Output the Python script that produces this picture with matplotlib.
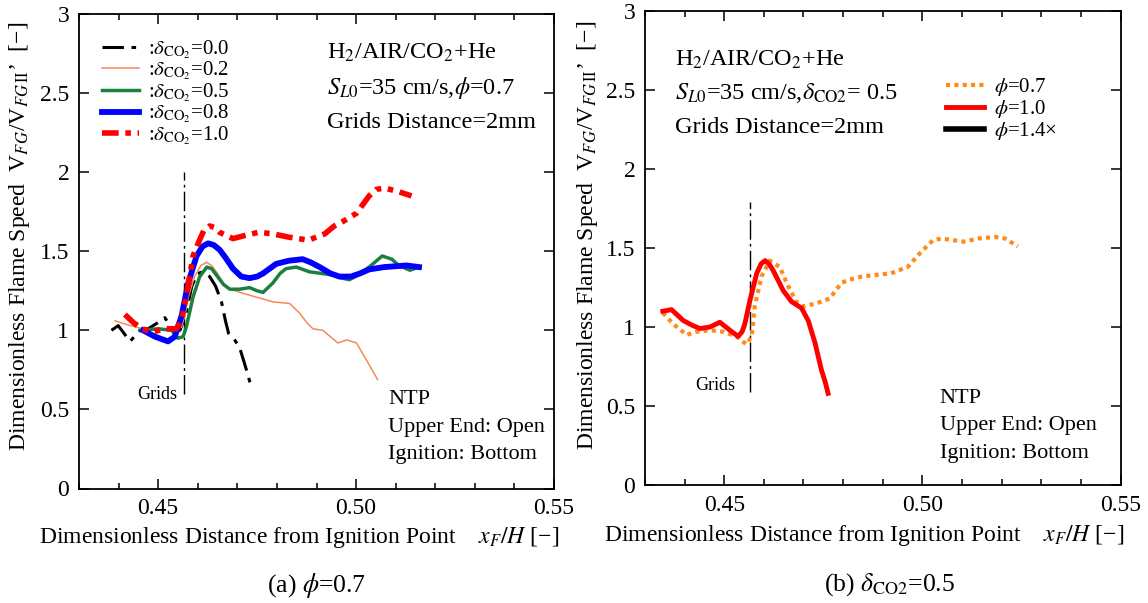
import matplotlib
matplotlib.use("Agg")
import matplotlib.pyplot as plt
from matplotlib.ticker import MultipleLocator, FixedLocator, FixedFormatter

plt.rcParams['font.family'] = ['Liberation Serif', 'DejaVu Serif']
plt.rcParams['mathtext.fontset'] = 'stix'

# (a) phi = 0.7, several CO2 ratios
x_d00 = [0.4382, 0.4399, 0.4414, 0.4429, 0.4454, 0.4475, 0.4500, 0.4517, 0.4534, 0.4555,
         0.4570, 0.4585, 0.4600, 0.4615, 0.4630, 0.4645, 0.4660, 0.4670, 0.4678, 0.4693,
         0.4706, 0.4723, 0.4733]
y_d00 = [1.00, 1.03, 0.98, 0.93, 1.00, 1.01, 1.05, 1.08, 1.01, 1.00,
         1.10, 1.28, 1.36, 1.37, 1.34, 1.28, 1.18, 1.06, 0.98, 0.94,
         0.89, 0.75, 0.66]

x_d02 = [0.4391, 0.4429, 0.4462, 0.4496, 0.4538, 0.4559, 0.4568, 0.4576, 0.4592, 0.4608,
         0.4622, 0.4635, 0.4647, 0.4672, 0.4706, 0.4748, 0.4790, 0.4832, 0.4857, 0.4875,
         0.4891, 0.4916, 0.4935, 0.4954, 0.4977, 0.5001, 0.5029, 0.5054]
y_d02 = [1.06, 1.03, 1.01, 1.00, 1.01, 1.02, 1.10, 1.21, 1.34, 1.41,
         1.43, 1.41, 1.37, 1.27, 1.24, 1.21, 1.18, 1.17, 1.11, 1.05,
         1.01, 1.00, 0.96, 0.92, 0.94, 0.92, 0.80, 0.69]

x_d05 = [0.4454, 0.4500, 0.4534, 0.4550, 0.4563, 0.4571, 0.4580, 0.4588, 0.4605, 0.4623,
         0.4635, 0.4647, 0.4665, 0.4681, 0.4706, 0.4731, 0.4750, 0.4765, 0.4790, 0.4808,
         0.4823, 0.4849, 0.4882, 0.4941, 0.4965, 0.4983, 0.5005, 0.5033, 0.5066, 0.5090,
         0.5108, 0.5136, 0.5159]
y_d05 = [1.00, 1.01, 1.00, 0.95, 0.96, 1.02, 1.12, 1.21, 1.34, 1.40,
         1.39, 1.35, 1.29, 1.26, 1.26, 1.27, 1.25, 1.24, 1.30, 1.36,
         1.39, 1.40, 1.37, 1.35, 1.33, 1.32, 1.35, 1.40, 1.47, 1.45,
         1.41, 1.38, 1.40]

x_d08 = [0.4462, 0.4492, 0.4525, 0.4542, 0.4559, 0.4576, 0.4597, 0.4612, 0.4626, 0.4640,
         0.4655, 0.4670, 0.4689, 0.4710, 0.4731, 0.4750, 0.4765, 0.4798, 0.4830, 0.4865,
         0.4885, 0.4908, 0.4935, 0.4958, 0.4987, 0.5010, 0.5033, 0.5071, 0.5127, 0.5159]
y_d08 = [1.00, 0.96, 0.93, 0.96, 1.09, 1.30, 1.47, 1.53, 1.55, 1.54,
         1.51, 1.46, 1.39, 1.34, 1.33, 1.34, 1.36, 1.42, 1.44, 1.45,
         1.43, 1.40, 1.36, 1.34, 1.34, 1.36, 1.385, 1.40, 1.41, 1.40]

x_d10 = [0.4416, 0.4437, 0.4458, 0.4487, 0.4517, 0.4546, 0.4559, 0.4571, 0.4588, 0.4601,
         0.4615, 0.4630, 0.4643, 0.4655, 0.4689, 0.4720, 0.4754, 0.4790, 0.4828, 0.4880,
         0.4900, 0.4921, 0.4945, 0.4968, 0.5001, 0.5033, 0.5050, 0.5071, 0.5103, 0.5140]
y_d10 = [1.10, 1.05, 1.01, 0.99, 1.01, 1.01, 1.07, 1.21, 1.47, 1.55,
         1.63, 1.66, 1.65, 1.62, 1.58, 1.60, 1.62, 1.61, 1.59, 1.57,
         1.59, 1.61, 1.66, 1.69, 1.74, 1.85, 1.89, 1.90, 1.88, 1.85]

# (b) delta_CO2 = 0.5, two equivalence ratios
x_p07 = [0.4345, 0.4371, 0.4405, 0.4430, 0.4464, 0.4497, 0.4531, 0.4556, 0.4569, 0.4577,
         0.4594, 0.4615, 0.4640, 0.4661, 0.4682, 0.4699, 0.4733, 0.4766, 0.4796, 0.4817,
         0.4848, 0.4921, 0.4963, 0.4995, 0.5027, 0.5049, 0.5104, 0.5141, 0.5182, 0.5209,
         0.5241]
y_p07 = [1.09, 1.02, 0.95, 0.97, 0.98, 0.97, 0.94, 0.89, 0.94, 1.13,
         1.32, 1.42, 1.38, 1.26, 1.16, 1.13, 1.15, 1.18, 1.28, 1.30,
         1.32, 1.34, 1.38, 1.47, 1.55, 1.56, 1.54, 1.56, 1.57, 1.56,
         1.51]

x_p10 = [0.4345, 0.4367, 0.4397, 0.4420, 0.4439, 0.4464, 0.4489, 0.4514, 0.4535, 0.4545,
         0.4552, 0.4565, 0.4582, 0.4593, 0.4603, 0.4613, 0.4623, 0.4649, 0.4670, 0.4695,
         0.4712, 0.4729, 0.4745, 0.4755, 0.4762]
y_p10 = [1.10, 1.11, 1.04, 1.01, 0.99, 1.00, 1.03, 0.98, 0.94, 0.97,
         1.02, 1.17, 1.34, 1.40, 1.42, 1.40, 1.36, 1.23, 1.16, 1.12,
         1.04, 0.90, 0.73, 0.65, 0.58]

grid_x = 0.4565
xticks = [0.45, 0.50, 0.55]
xtick_labels = ['0.45', '0.50', '0.55']
yticks = [0, 0.5, 1, 1.5, 2, 2.5, 3]
ytick_labels = ['0', '0.5', '1', '1.5', '2', '2.5', '3']

W, H = 1148, 603
fig = plt.figure(figsize=(W / 100, H / 100), dpi=100)
ax1 = fig.add_axes([79 / W, 1 - 488.5 / H, 475 / W, 474.5 / H])
ax2 = fig.add_axes([645 / W, 1 - 485 / H, 475.5 / W, 474 / H])


def style_axes(ax):
    ax.set_xlim(0.43, 0.55)
    ax.set_ylim(0, 3)
    ax.xaxis.set_major_locator(FixedLocator(xticks))
    ax.xaxis.set_major_formatter(FixedFormatter(xtick_labels))
    ax.xaxis.set_minor_locator(MultipleLocator(0.01))
    ax.yaxis.set_major_locator(FixedLocator(yticks))
    ax.yaxis.set_major_formatter(FixedFormatter(ytick_labels))
    ax.tick_params(which='both', direction='in', top=True, right=True, labelsize=17,
                   width=1.1)
    ax.tick_params(which='major', length=7, pad=7)
    ax.tick_params(which='minor', length=4.5)
    for s in ax.spines.values():
        s.set_linewidth(1.3)


style_axes(ax1)
style_axes(ax2)

# panel (a)
ax1.plot([grid_x, grid_x], [0.6, 2.0], color='black', lw=1, ls=(0, (14, 3, 2, 3)))
ax1.plot(x_d00, y_d00, color='black', lw=2.2, ls=(0, (7, 2.5, 1.5, 2.5)),
         label=r':$\delta_{\mathrm{CO}_2}$=0.0')
ax1.plot(x_d02, y_d02, color='#f5895a', lw=1.1, label=r':$\delta_{\mathrm{CO}_2}$=0.2')
ax1.plot(x_d05, y_d05, color='#1a8040', lw=2.5, label=r':$\delta_{\mathrm{CO}_2}$=0.5')
ax1.plot(x_d08, y_d08, color='#0000ff', lw=4.2, label=r':$\delta_{\mathrm{CO}_2}$=0.8')
ax1.plot(x_d10, y_d10, color='#ff0000', lw=4, ls=(0, (3, 1.2, 1, 1.2, 1, 1.2)),
         label=r':$\delta_{\mathrm{CO}_2}$=1.0')
ax1.legend(loc='upper left', bbox_to_anchor=(0.048, 0.949), frameon=False, fontsize=15,
           handlelength=1.8, handletextpad=0.4, labelspacing=-0.05, borderpad=0,
           borderaxespad=0)

ax1.text(0.522, 0.918, r'H$_2$/AIR/CO$_2$+He', transform=ax1.transAxes, fontsize=17.5,
         va='center')
ax1.text(0.522, 0.844, r'$S_{L0}$=35 cm/s,$\phi$=0.7', transform=ax1.transAxes,
         fontsize=17.5, va='center')
ax1.text(0.522, 0.772, 'Grids Distance=2mm', transform=ax1.transAxes, fontsize=17.5,
         va='center')
ax1.text(0.651, 0.187, 'NTP', transform=ax1.transAxes, fontsize=16, va='center')
ax1.text(0.651, 0.128, 'Upper End: Open', transform=ax1.transAxes, fontsize=16,
         va='center')
ax1.text(0.651, 0.071, 'Ignition: Bottom', transform=ax1.transAxes, fontsize=16,
         va='center')
ax1.text(0.4547, 0.593, 'Grids', fontsize=13, ha='right', va='center')

# panel (b)
ax2.plot([grid_x, grid_x], [0.59, 1.79], color='black', lw=1, ls=(0, (14, 3, 2, 3)))
ax2.plot(x_p07, y_p07, color='#ff8c1a', lw=3, ls=(0, (1, 1)), label=r'$\phi$=0.7')
ax2.plot(x_p10, y_p10, color='#ff0000', lw=3.5, label=r'$\phi$=1.0')
ax2.plot([], [], color='black', lw=4, label=r'$\phi$=1.4' + '\u00d7')
ax2.legend(loc='upper left', bbox_to_anchor=(0.634, 0.862), frameon=False, fontsize=15,
           handlelength=1.8, handletextpad=0.5, labelspacing=0.0, borderpad=0,
           borderaxespad=0)

ax2.text(0.063, 0.897, r'H$_2$/AIR/CO$_2$+He', transform=ax2.transAxes, fontsize=17.5,
         va='center')
ax2.text(0.063, 0.827, r'$S_{L0}$=35 cm/s,$\delta_{\mathrm{CO2}}$= 0.5',
         transform=ax2.transAxes, fontsize=17.5, va='center')
ax2.text(0.063, 0.755, 'Grids Distance=2mm', transform=ax2.transAxes, fontsize=17.5,
         va='center')
ax2.text(0.620, 0.1835, 'NTP', transform=ax2.transAxes, fontsize=16, va='center')
ax2.text(0.620, 0.125, 'Upper End: Open', transform=ax2.transAxes, fontsize=16,
         va='center')
ax2.text(0.620, 0.0675, 'Ignition: Bottom', transform=ax2.transAxes, fontsize=16,
         va='center')
ax2.text(0.4527, 0.627, 'Grids', fontsize=13, ha='right', va='center')

# axis labels and captions
ylab = r'Dimensionless Flame Speed  V$_{FG}$/V$_{FG\,\mathrm{II}}$' + '\u2019  [\u2212]'
xlab = r'Dimensionless Distance from Ignition Point    $x_F/H$ [' + '\u2212]'
fig.text(20 / W, 1 - 236 / H, ylab, rotation=90, ha='center', va='center', fontsize=17)
fig.text(588 / W, 1 - 235 / H, ylab, rotation=90, ha='center', va='center', fontsize=17)
fig.text(299 / W, 1 - 537 / H, xlab, ha='center', va='center', fontsize=17)
fig.text(864 / W, 1 - 535 / H, xlab, ha='center', va='center', fontsize=17)
fig.text(317 / W, 1 - 585 / H, r'(a) $\phi$=0.7', ha='center', va='center', fontsize=18.5)
fig.text(890 / W, 1 - 585 / H, r'(b) $\delta_{\mathrm{CO2}}$=0.5', ha='center',
         va='center', fontsize=18.5)

fig.savefig('out.png', dpi=100)
